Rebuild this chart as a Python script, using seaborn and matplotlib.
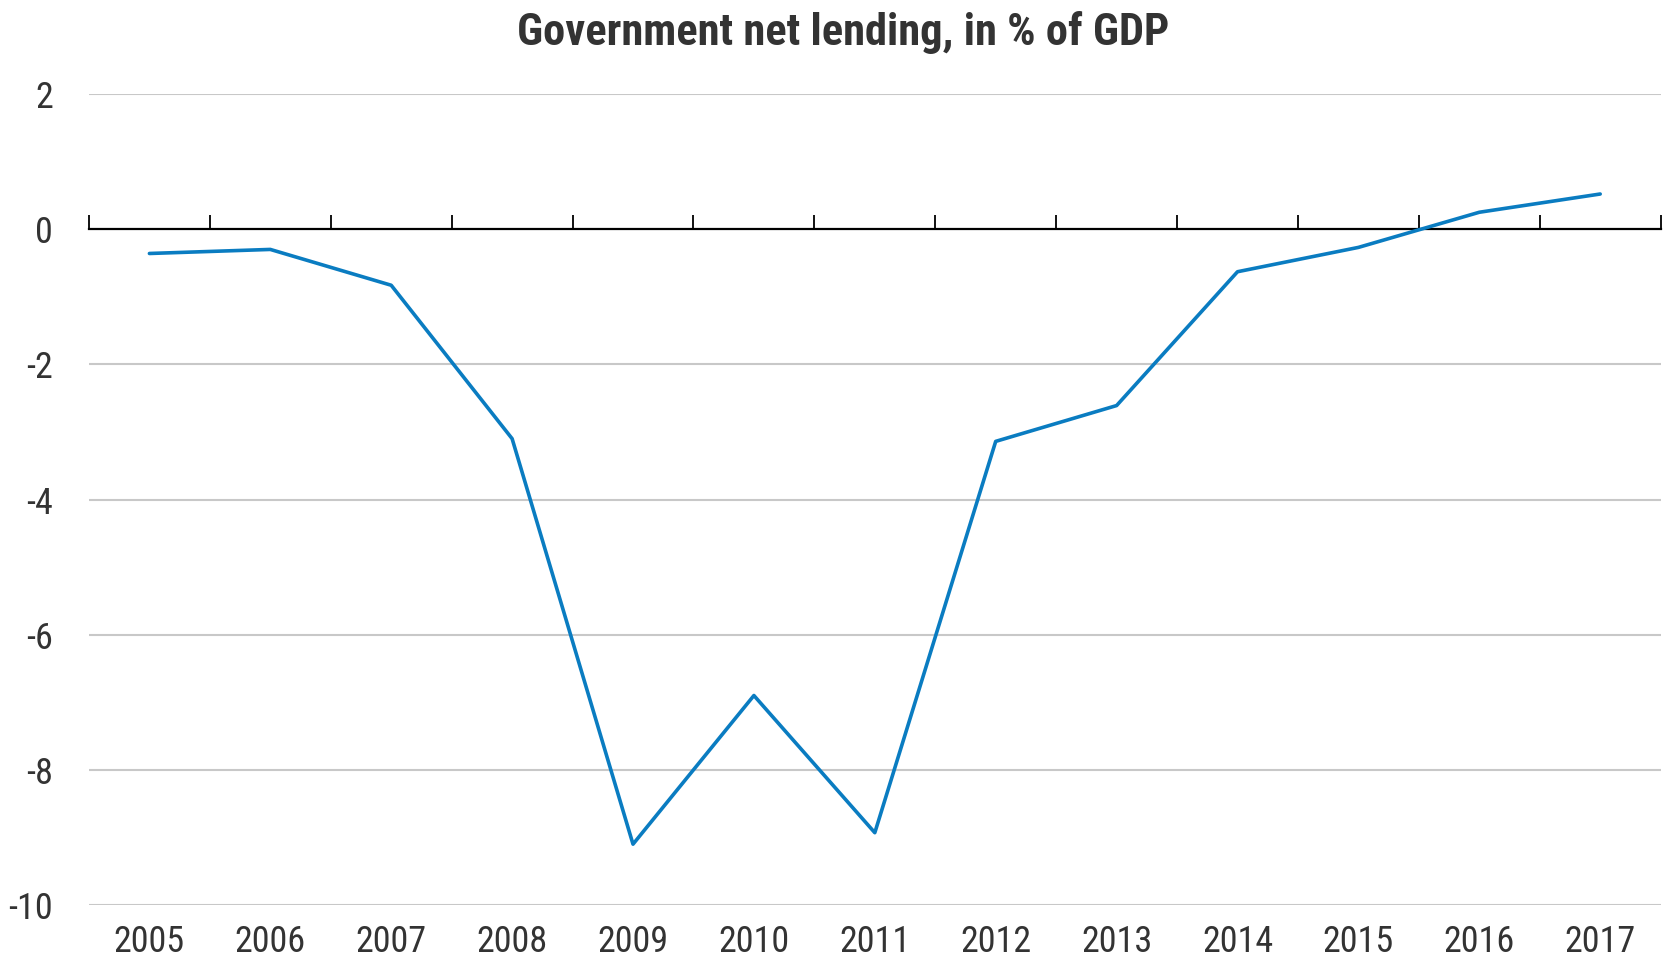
import matplotlib
matplotlib.use("Agg")
import matplotlib.pyplot as plt
import seaborn as sns
import pandas as pd
import numpy as np

# Données
years = [2005, 2006, 2007, 2008, 2009, 2010, 2011, 2012, 2013, 2014, 2015, 2016, 2017]
net_lending = [-0.36, -0.30, -0.83, -3.10, -9.10, -6.90, -8.93, -3.14, -2.61, -0.63, -0.27, 0.25, 0.52]
y_ticks = [2, 0, -2, -4, -6, -8, -10]
title = "Government net lending, in % of GDP"

df = pd.DataFrame({"year": years, "value": net_lending})

sns.set_style("white")
plt.rcParams["font.family"] = ["Liberation Sans Narrow", "Roboto Condensed", "DejaVu Sans"]

fig = plt.figure(figsize=(16.69, 9.58), dpi=100)
ax = fig.add_axes([0.0533, 0.0553, 0.9417, 0.8466])

sns.lineplot(data=df, x="year", y="value", color="#0a7cc1", linewidth=2.6, ax=ax)

ax.set_xlim(years[0] - 0.5, years[-1] + 0.5)
ax.set_ylim(min(y_ticks), max(y_ticks))
ax.set_yticks(y_ticks)
ax.set_yticklabels([str(t) for t in y_ticks])
ax.set_xticks(years)
ax.set_xticklabels([str(y) for y in years])

# Grille horizontale
for t in y_ticks:
    if t != 0:
        ax.axhline(t, color="#c8c8c8", linewidth=1.5, zorder=0)

for s in ax.spines.values():
    s.set_visible(False)
ax.tick_params(axis="both", length=0, labelsize=26, labelcolor="#333333")
ax.tick_params(axis="x", pad=14)
ax.tick_params(axis="y", pad=26)
for lbl in ax.get_yticklabels():
    lbl.set_horizontalalignment("right")
ax.set_xlabel("")
ax.set_ylabel("")

# Axe zéro avec graduations entre les années
sec = ax.secondary_xaxis(0, transform=ax.transData)
sec.set_xticks([y - 0.5 for y in years] + [years[-1] + 0.5])
sec.set_xticklabels([])
sec.tick_params(direction="in", length=10, width=1.3, color="black")
sec.spines["bottom"].set_color("black")
sec.spines["bottom"].set_linewidth(1.6)

fig.suptitle(title, x=0.505, y=0.988, fontsize=32, fontweight="bold", color="#333333")

fig.savefig("out.png", dpi=100)
